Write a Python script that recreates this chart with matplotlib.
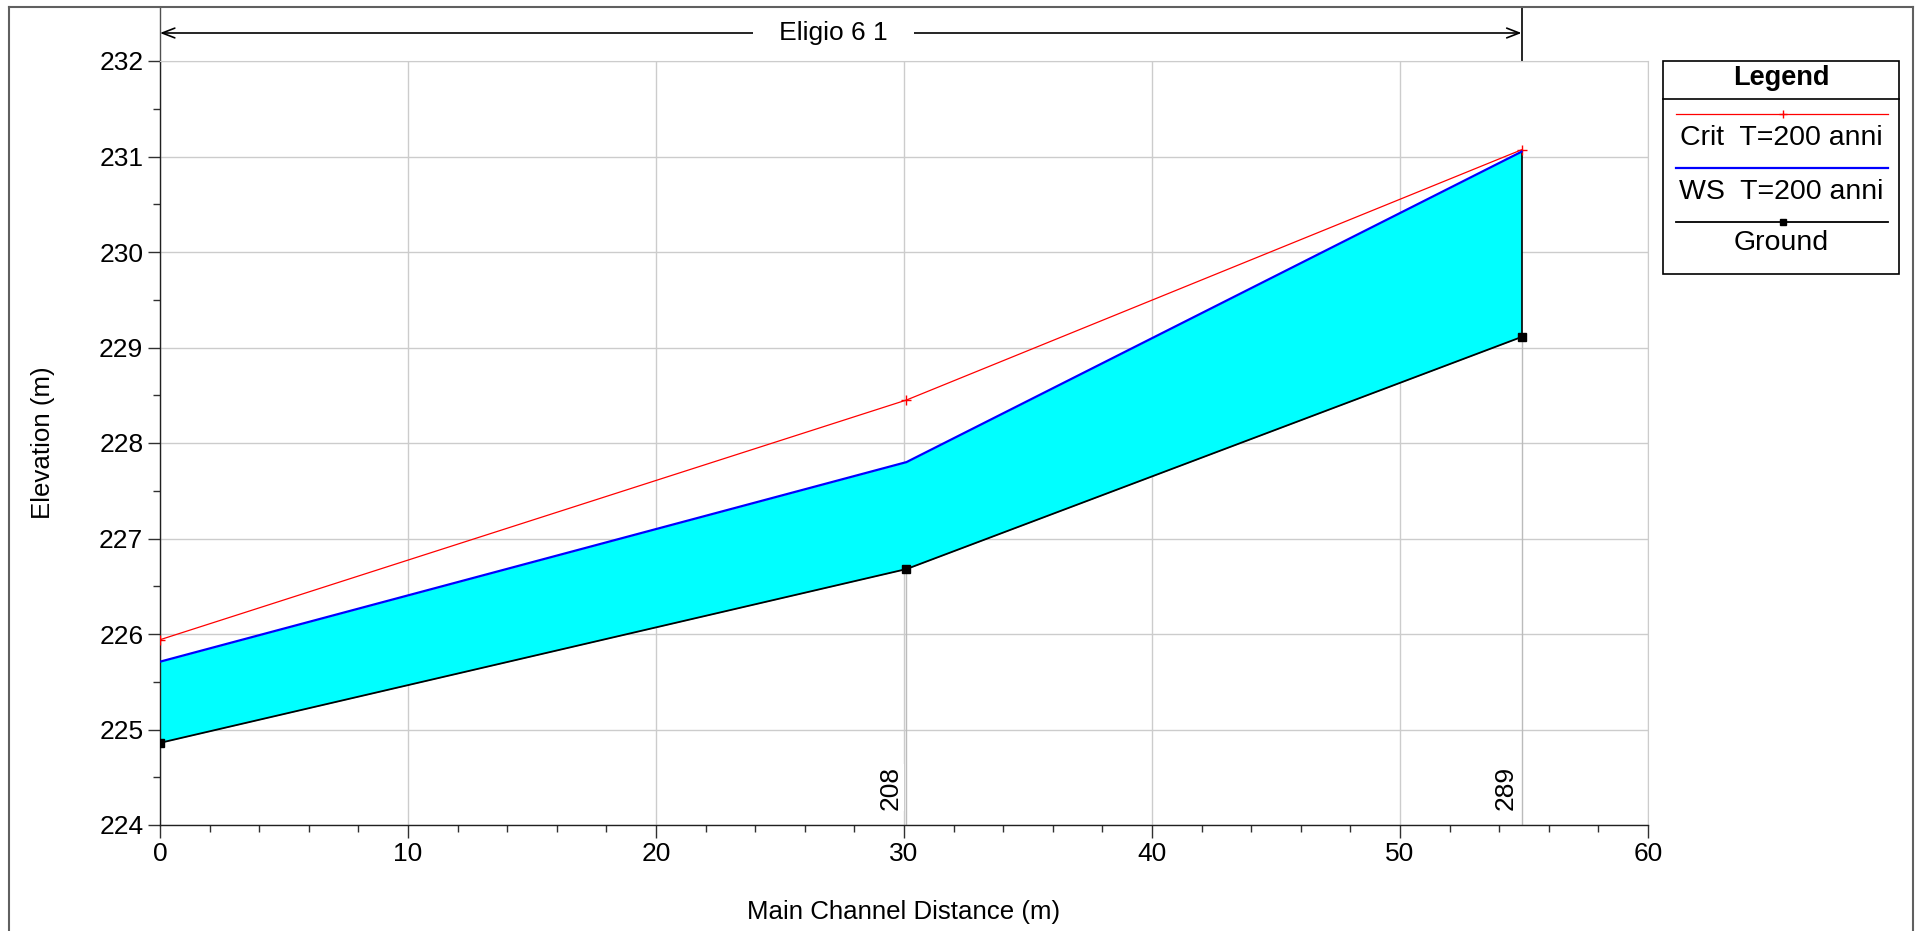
from matplotlib import pyplot as plt
from matplotlib.lines import Line2D
from matplotlib.patches import Rectangle
import matplotlib.transforms as mtransforms

plt.rcParams['font.family'] = ['Liberation Sans', 'DejaVu Sans']

# profile data
dist = [0, 30.1, 54.9]
ground = [224.86, 226.68, 229.11]
ws = [225.71, 227.80, 231.05]
crit = [225.94, 228.45, 231.07]
station_x = [30.1, 54.9]
station_names = ["208", "289"]
reach_name = "Eligio 6 1"
legend_labels = ["Crit  T=200 anni", "WS  T=200 anni", "Ground"]

W, H = 1923, 931
fig = plt.figure(figsize=(W / 100, H / 100), dpi=100)


def fx(px):
    return px / W


def fy(py):
    return 1 - py / H


ax = fig.add_axes([fx(160), fy(825), fx(1648) - fx(160), fy(61) - fy(825)])
ax.set_xlim(0, 60)
ax.set_ylim(224, 232)
ax.set_xticks(range(0, 61, 10))
ax.set_xticks(range(0, 61, 2), minor=True)
ax.set_yticks(range(224, 233))
ax.set_yticks([224.5 + i for i in range(8)], minor=True)
ax.tick_params(which="major", direction="out", length=9, width=1, labelsize=19, pad=3, color="#303030")
ax.tick_params(which="minor", direction="out", length=5, width=1, color="#303030")
ax.grid(True, which="major", color="#cccccc", lw=1)
ax.set_axisbelow(True)
for s in ["top", "right"]:
    ax.spines[s].set_color("#cccccc")
for s in ["left", "bottom"]:
    ax.spines[s].set_color("#202020")
    ax.spines[s].set_linewidth(1)

ax.set_xlabel("Main Channel Distance (m)", fontsize=18.6, labelpad=25)
ax.set_ylabel("Elevation (m)", fontsize=18.6, labelpad=32)

# water between ground and water surface
ax.fill_between(dist, ground, ws, color="#00ffff", lw=0, zorder=1.5)
ax.plot([dist[-1], dist[-1]], [ground[-1], ws[-1]], color="black", lw=1.2, zorder=2)
ax.plot(dist, crit, color="red", lw=0.9, marker="+", ms=7, mew=1, zorder=3)
ax.plot(dist, ws, color="blue", lw=1.6, zorder=3)
ax.plot(dist, ground, color="black", lw=1.3, marker="s", ms=5.5, zorder=4)

# river station markers
for xs, name, g in zip(station_x, station_names, ground[1:]):
    ax.plot([xs, xs], [224, g], color="#bbbbbb", lw=1, zorder=1.2)
    ax.text(xs - 0.15, 224.16, name, rotation=90, ha="right", va="bottom", fontsize=19,
            bbox=dict(facecolor="white", edgecolor="none", pad=1), zorder=1.3)

# reach annotation above the plot
tr = mtransforms.blended_transform_factory(ax.transData, ax.transAxes)
ytop = 1 + 54 / 764
yarr = 1 + 28 / 764
ax.plot([0, 0], [1, ytop], transform=tr, color="#505050", lw=1, clip_on=False)
ax.plot([dist[-1], dist[-1]], [1, ytop], transform=tr, color="black", lw=1.2, clip_on=False)
ax.annotate("", xy=(0, yarr), xytext=(dist[-1], yarr), xycoords=tr, textcoords=tr,
            arrowprops=dict(arrowstyle="<->,head_length=0.9,head_width=0.35", color="black", lw=1.2,
                            shrinkA=0, shrinkB=0))
ax.text((0 + dist[-1]) / 2 - 0.3, yarr, "   " + reach_name + "   ", transform=tr, ha="center", va="center",
        fontsize=19, bbox=dict(facecolor="white", edgecolor="none", pad=3), clip_on=False)

# outer frame
for xs, ys in [([9, 9], [7, H + 5]), ([9, 1913], [7, 7]), ([1913, 1913], [7, H + 5])]:
    fig.add_artist(Line2D([fx(x) for x in xs], [fy(y) for y in ys], color="#606060", lw=1.5))

# legend box
fig.add_artist(Rectangle((fx(1663), fy(274)), fx(1899) - fx(1663), fy(61) - fy(274),
                         facecolor="white", edgecolor="black", lw=1.2))
fig.add_artist(Line2D([fx(1663), fx(1899)], [fy(99), fy(99)], color="black", lw=1.2))
fig.text(fx(1781), fy(78), "Legend", ha="center", va="center", fontsize=19.5, fontweight="bold")
styles = [dict(color="red", lw=0.9, marker="+", ms=6),
          dict(color="blue", lw=1.6),
          dict(color="black", lw=1.3, marker="s", ms=4.5)]
line_y = [114, 168, 222]
text_y = [138, 192, 243]
for lab, st, ly, ty in zip(legend_labels, styles, line_y, text_y):
    fig.add_artist(Line2D([fx(1676), fx(1888)], [fy(ly), fy(ly)], **st, markevery=[]))
    fig.add_artist(Line2D([fx(1783)], [fy(ly)], **st))
    fig.text(fx(1781), fy(ty), lab, ha="center", va="center", fontsize=20.5)

plt.savefig("out.png", dpi=100)
